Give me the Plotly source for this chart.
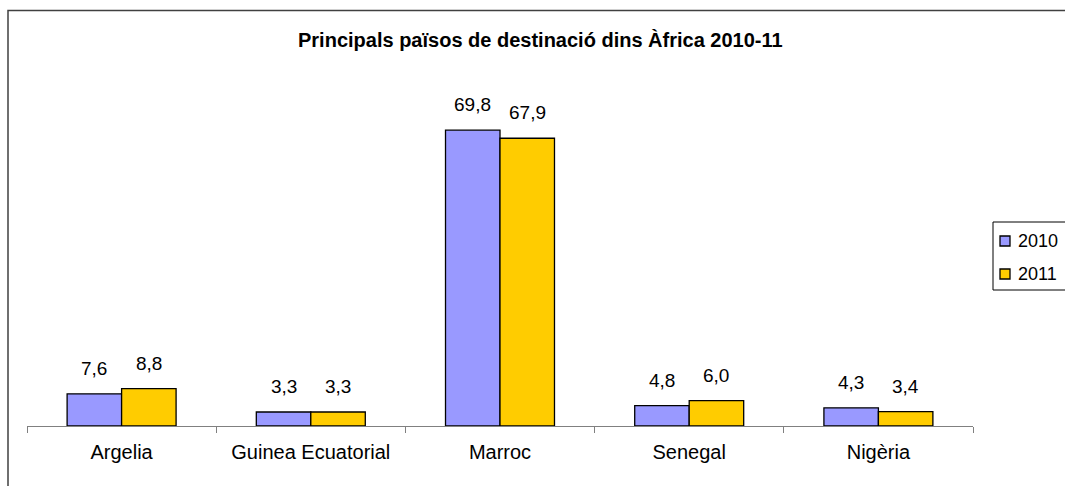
import plotly.graph_objects as go

categories = ["Argelia", "Guinea Ecuatorial", "Marroc", "Senegal", "Nigèria"]
series_names = ["2010", "2011"]
values_2010 = [7.6, 3.3, 69.8, 4.8, 4.3]
values_2011 = [8.8, 3.3, 67.9, 6.0, 3.4]
colors = ["#9999FF", "#FFCC00"]
title = "Principals països de destinació dins Àfrica 2010-11"

W, H = 1065, 486
L, R, T, B = 27, 92, 87, 60
PW, PH = W - L - R, H - T - B
FONT = "Liberation Sans, Arial, sans-serif"

def px_x(x):
    return (x - L) / PW

def px_y(y):
    return (H - B - y) / PH

fig = go.Figure()
all_vals = [values_2010, values_2011]
for name, vals, col in zip(series_names, all_vals, colors):
    fig.add_trace(go.Bar(
        x=categories, y=vals, name=name,
        marker=dict(color=col, line=dict(color="black", width=1.3)),
        showlegend=False, hoverinfo="skip",
    ))

annotations = []
bar_px = PW / len(categories) * (1 - 0.424) / 2
for i, vals in enumerate(all_vals):
    shift = (i - 0.5) * bar_px
    for c, v in zip(categories, vals):
        annotations.append(dict(
            x=c, y=v, xref="x", yref="y", text=f"{v:.1f}".replace(".", ","),
            showarrow=False, xshift=shift, yshift=13, yanchor="bottom",
            font=dict(family=FONT, size=19, color="black"),
        ))

annotations.append(dict(
    x=px_x(540), y=px_y(40), xref="paper", yref="paper", text="<b>" + title + "</b>",
    showarrow=False, xanchor="center", yanchor="middle",
    font=dict(family=FONT, size=20, color="black"),
))

shapes = []
# outer chart frame
shapes.append(dict(type="rect", xref="paper", yref="paper",
                   x0=px_x(8), x1=px_x(1070), y0=px_y(492), y1=px_y(10.5),
                   line=dict(color="#404040", width=1.5), fillcolor="rgba(0,0,0,0)", layer="below"))
# legend box
shapes.append(dict(type="rect", xref="paper", yref="paper",
                   x0=px_x(993), x1=px_x(1070), y0=px_y(290), y1=px_y(222),
                   line=dict(color="black", width=1), fillcolor="white"))
for j, (name, col) in enumerate(zip(series_names, colors)):
    cy = 241 + j * 33
    shapes.append(dict(type="rect", xref="paper", yref="paper",
                       x0=px_x(1000), x1=px_x(1010), y0=px_y(cy + 5), y1=px_y(cy - 5),
                       line=dict(color="black", width=1.3), fillcolor=col))
    annotations.append(dict(
        x=px_x(1016), y=px_y(cy), xref="paper", yref="paper", text=name,
        showarrow=False, xanchor="left", yanchor="middle",
        font=dict(family=FONT, size=18, color="black"),
    ))

fig.update_layout(
    width=W, height=H,
    margin=dict(l=L, r=R, t=T, b=B, pad=0),
    paper_bgcolor="white", plot_bgcolor="white",
    barmode="group", bargap=0.424, bargroupgap=0,
    annotations=annotations, shapes=shapes,
    xaxis=dict(showline=True, linecolor="#808080", linewidth=1.3,
               ticks="outside", ticklen=6, tickcolor="#808080", tickwidth=1.3,
               tickson="boundaries", showgrid=False, zeroline=False,
               tickfont=dict(family=FONT, size=20, color="black"),
               ticklabelstandoff=8),
    yaxis=dict(range=[0, 80], visible=False, showgrid=False, zeroline=False),
    font=dict(family=FONT),
)

fig.write_html("out.html", config={"displayModeBar": False},
               post_script="document.body.style.margin='0';document.body.style.overflow='hidden';")
